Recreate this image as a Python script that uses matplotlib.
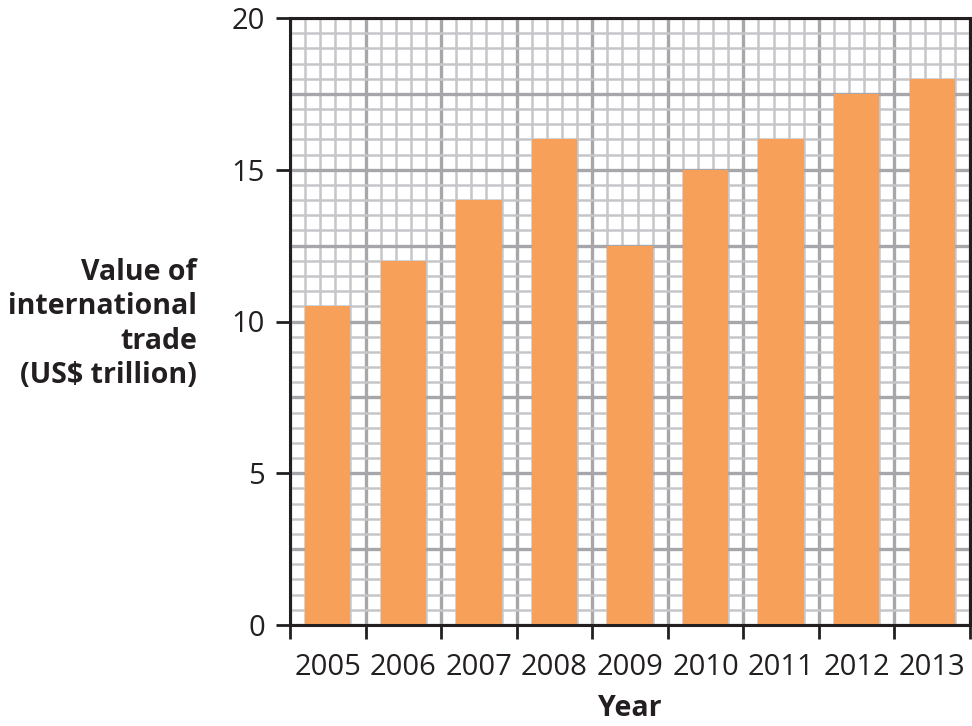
import matplotlib
matplotlib.use("Agg")
import matplotlib.pyplot as plt
import numpy as np

years = ["2005", "2006", "2007", "2008", "2009", "2010", "2011", "2012", "2013"]
values = [10.5, 12, 14, 16, 12.5, 15, 16, 17.5, 18]
y_ticks = [0, 5, 10, 15, 20]

plt.rcParams['font.family'] = ['Open Sans', 'DejaVu Sans']

fig = plt.figure(figsize=(9.72, 7.26), dpi=100)
ax = fig.add_axes([290/972, 1-625/726, 680/972, 607/726])

x = np.arange(len(years))
ax.bar(x, values, width=0.6, color='#F7A05A', zorder=3)

ax.set_xlim(-0.5, len(years)-0.5)
ax.set_ylim(0, 20)

# grid
for xv in np.arange(-0.5, len(years)-0.5 + 1e-9, 0.2):
    k = round((xv + 0.5) / 0.2)
    if k % 5 == 0:
        ax.axvline(xv, color='#a6a6ab', lw=2.4, zorder=1)
    else:
        ax.axvline(xv, color='#c6c6ca', lw=1.8, zorder=1)
for yv in np.arange(0, 20 + 1e-9, 0.5):
    k = round(yv / 0.5)
    if k % 5 == 0:
        ax.axhline(yv, color='#a6a6ab', lw=2.4, zorder=1)
    else:
        ax.axhline(yv, color='#c6c6ca', lw=1.8, zorder=1)

# ticks
ax.set_xticks(np.arange(-0.5, len(years), 1.0))
ax.set_xticklabels([])
ax.xaxis.set_minor_locator(matplotlib.ticker.FixedLocator(x))
ax.set_xticklabels(years, minor=True)
ax.tick_params(axis='x', which='minor', length=0, pad=20, labelsize=21, colors='#231f20')
ax.tick_params(axis='x', which='major', length=10, width=2, direction='out', color='#231f20')

ax.set_yticks(y_ticks)
ax.yaxis.set_minor_locator(matplotlib.ticker.NullLocator())
ax.tick_params(axis='y', which='major', length=10, width=2, direction='out', labelsize=21,
               pad=8, colors='#231f20')

for s in ax.spines.values():
    s.set_color('#231f20')
    s.set_linewidth(2.2)
    s.set_zorder(5)

ax.set_xlabel("Year", fontsize=20.5, fontweight='bold', labelpad=9, color='#231f20')
fig.text(197/972, 1-324/726, "Value of\ninternational\ntrade\n(US$ trillion)",
         ha='right', va='center', fontsize=20.5, fontweight='bold', color='#231f20',
         linespacing=1.25)

fig.savefig("out.png", dpi=100)
